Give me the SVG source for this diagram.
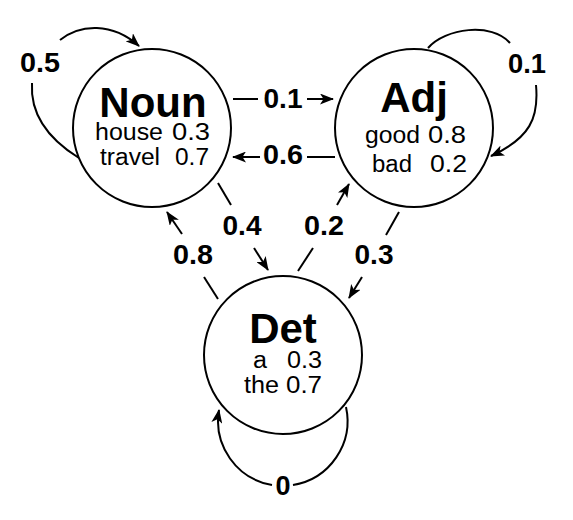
<svg xmlns="http://www.w3.org/2000/svg" width="573" height="520" viewBox="0 0 573 520">
<style>
.node{fill:#fff;stroke:#000;stroke-width:2}
.edge{fill:none;stroke:#000;stroke-width:2}
.title{font-family:"Liberation Sans",Arial,sans-serif;font-weight:bold;font-size:42px;text-anchor:middle;fill:#000}
.sub{font-family:"Liberation Sans",Arial,sans-serif;font-size:23px;fill:#000}
.lbl{font-family:"Liberation Sans",Arial,sans-serif;font-weight:bold;font-size:27px;text-anchor:middle;fill:#000}
</style>
<defs>
<marker id="arr" markerUnits="userSpaceOnUse" markerWidth="15" markerHeight="11" refX="13" refY="5.5" orient="auto">
<path d="M0,0 L14,5.5 L0,11 L3.5,5.5 Z" fill="#000"/>
</marker>
</defs>
<rect width="573" height="520" fill="#fff"/>
<g id="connectors">
<path class="edge" d="M79,158 C50,140 30,115 32,83"/>
<path class="edge" d="M60,40 C80,24 112,22 139,46" marker-end="url(#arr)"/>
<path class="edge" d="M428,48 C445,28 492,22 510,43"/>
<path class="edge" d="M536,85 C539,118 530,138 491,156" marker-end="url(#arr)"/>
<path class="edge" d="M346,407 A65,65 0 0 1 293,485"/>
<path class="edge" d="M272,485 A65,65 0 0 1 219,410" marker-end="url(#arr)"/>
<path class="edge" d="M233,99 L258,99"/>
<path class="edge" d="M307,99 L333,99" marker-end="url(#arr)"/>
<path class="edge" d="M335,157 L307,157"/>
<path class="edge" d="M260,157 L233,157" marker-end="url(#arr)"/>
<path class="edge" d="M218,183 L231,205"/>
<path class="edge" d="M254,248 L268,270" marker-end="url(#arr)"/>
<path class="edge" d="M218,299 L204,277"/>
<path class="edge" d="M182,234 L167,212" marker-end="url(#arr)"/>
<path class="edge" d="M298,271 L313,248"/>
<path class="edge" d="M337,205 L349,184" marker-end="url(#arr)"/>
<path class="edge" d="M399,212 L386,235"/>
<path class="edge" d="M362,277 L349,298" marker-end="url(#arr)"/>
<text class="lbl" x="40" y="72" textLength="40" lengthAdjust="spacingAndGlyphs">0.5</text>
<text class="lbl" x="527" y="73" textLength="38" lengthAdjust="spacingAndGlyphs">0.1</text>
<text class="lbl" x="283" y="108" textLength="39" lengthAdjust="spacingAndGlyphs">0.1</text>
<text class="lbl" x="283" y="164" textLength="40" lengthAdjust="spacingAndGlyphs">0.6</text>
<text class="lbl" x="242" y="235" textLength="39" lengthAdjust="spacingAndGlyphs">0.4</text>
<text class="lbl" x="324" y="235" textLength="40" lengthAdjust="spacingAndGlyphs">0.2</text>
<text class="lbl" x="193" y="264" textLength="40" lengthAdjust="spacingAndGlyphs">0.8</text>
<text class="lbl" x="374" y="264" textLength="39" lengthAdjust="spacingAndGlyphs">0.3</text>
<text class="lbl" x="283" y="495">0</text>
</g>
<g id="noun">
<circle class="node" cx="152" cy="128" r="79"/>
<text class="title" x="153" y="117">Noun</text>
<text class="sub" y="140"><tspan x="95" textLength="68" lengthAdjust="spacingAndGlyphs">house</tspan> <tspan x="172" textLength="38" lengthAdjust="spacingAndGlyphs">0.3</tspan></text>
<text class="sub" y="165"><tspan x="100" textLength="60" lengthAdjust="spacingAndGlyphs">travel</tspan> <tspan x="175" textLength="34" lengthAdjust="spacingAndGlyphs">0.7</tspan></text>
</g>
<g id="adj">
<circle class="node" cx="414" cy="128" r="79"/>
<text class="title" x="414" y="112">Adj</text>
<text class="sub" y="143"><tspan x="365" textLength="55" lengthAdjust="spacingAndGlyphs">good</tspan> <tspan x="428" textLength="38" lengthAdjust="spacingAndGlyphs">0.8</tspan></text>
<text class="sub" y="172"><tspan x="372" textLength="40" lengthAdjust="spacingAndGlyphs">bad</tspan> <tspan x="430" textLength="37" lengthAdjust="spacingAndGlyphs">0.2</tspan></text>
</g>
<g id="det">
<circle class="node" cx="283" cy="355" r="79"/>
<text class="title" x="283" y="343">Det</text>
<text class="sub" y="368"><tspan x="253" textLength="14" lengthAdjust="spacingAndGlyphs">a</tspan> <tspan x="287" textLength="35" lengthAdjust="spacingAndGlyphs">0.3</tspan></text>
<text class="sub" y="393"><tspan x="244" textLength="35" lengthAdjust="spacingAndGlyphs">the</tspan> <tspan x="286" textLength="36" lengthAdjust="spacingAndGlyphs">0.7</tspan></text>
</g>
</svg>
